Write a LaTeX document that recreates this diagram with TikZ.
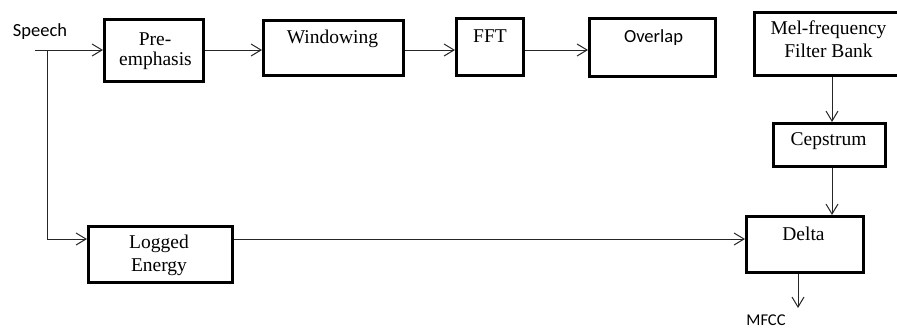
\documentclass[tikz,border=0pt]{standalone}
\usepackage{fontspec}
\setmainfont{Liberation Serif}
\newfontfamily\carlito{Carlito}
\usetikzlibrary{arrows.meta,calc}
\begin{document}
\begin{tikzpicture}[x=1pt,y=-1pt,
  blk/.style={draw=black,line width=3pt,inner sep=0pt,fill=white},
  serif/.style={font=\fontsize{19.5}{22}\selectfont,inner sep=0pt,anchor=base},
  sans/.style={font=\carlito\fontsize{18.5}{22}\selectfont,inner sep=0pt,anchor=base},
  conn/.style={draw=black!85,line width=1pt,-{Straight Barb[length=10pt,width=12pt,line width=1pt]}},
  wire/.style={draw=black!85,line width=1pt}]
\useasboundingbox (0,0) rectangle (897,330);
% boxes
\node[blk,minimum width=99,minimum height=62] (pre) at (154,50.5) {};
\node[blk,minimum width=140,minimum height=55] (win) at (333.5,48) {};
\node[blk,minimum width=67,minimum height=57] (fft) at (490,47) {};
\node[blk,minimum width=126,minimum height=58] (ovl) at (652.5,47.5) {};
\node[blk,minimum width=150,minimum height=63] (mel) at (829.5,44) {};
\node[blk,minimum width=112,minimum height=43] (cep) at (829.5,145) {};
\node[blk,minimum width=117,minimum height=56] (del) at (805,244.5) {};
\node[blk,minimum width=144,minimum height=56] (log) at (160.5,254.5) {};
% texts
\node[serif] (pret1) at (155,45) {Pre-};
\node[serif] (pret2) at (155.5,65) {emphasis};
\node[serif] (wint) at (332.5,43) {Windowing};
\node[serif] (fftt) at (490,42) {FFT};
\node[sans] (ovlt) at (653.5,42) {Overlap};
\node[serif] (melt1) at (828.5,34) {Mel-frequency};
\node[serif] (melt2) at (828.5,57) {Filter Bank};
\node[serif] (cept) at (828.5,145) {Cepstrum};
\node[serif] (delt) at (803.5,240) {Delta};
\node[serif] (logt1) at (159,248) {Logged};
\node[serif] (logt2) at (159,271) {Energy};
\node[sans] (spt) at (40,36) {Speech};
\node[sans,font=\carlito\fontsize{16.5}{20}\selectfont] (mfcc) at (766,325) {MFCC};
% coordinates
\coordinate (sp) at (35,50);
\coordinate (j) at (47,50);
\coordinate (e) at (47,239);
\coordinate (mo) at (798,308);
% connectors
\draw[conn] (sp) -- (sp -| pre.west);
\draw[conn] (sp -| pre.east) -- (sp -| win.west);
\draw[conn] (sp -| win.east) -- (sp -| fft.west);
\draw[conn] (sp -| fft.east) -- (sp -| ovl.west);
\draw[conn] ([xshift=2.5pt]mel.south -| cep.north) -- ([xshift=2.5pt]cep.north);
\draw[conn] ([xshift=2.5pt]cep.south) -- ([xshift=2.5pt]cep.south |- del.north);
\draw[wire] (j) -- (e);
\draw[conn] (e) -- (e -| log.west);
\draw[conn] (e -| log.east) -- (e -| del.west);
\draw[conn] (mo |- del.south) -- (mo);
\end{tikzpicture}
\end{document}
